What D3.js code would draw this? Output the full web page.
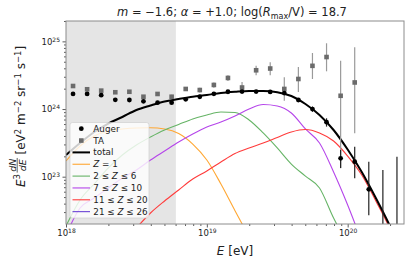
<!DOCTYPE html>
<html>
<head>
<meta charset="utf-8">
<script src="https://cdn.jsdelivr.net/npm/d3@7"></script>
<style>
  body { margin: 0; background: #fff; }
  svg { display: block; font-family: "DejaVu Sans", sans-serif; }
</style>
</head>
<body>
<div id="chart"></div>
<script>
// model curves, sampled on a log10(E/eV) grid
const modelLogE = [18.0, 18.1, 18.2, 18.3, 18.4, 18.5, 18.6, 18.7, 18.8, 18.9, 19.0, 19.1, 19.2,
                   19.3, 19.4, 19.5, 19.6, 19.7, 19.8, 19.9, 20.0, 20.1, 20.2, 20.3, 20.4];
const totalFlux = [2.09e23, 3.15e23, 4.58e23, 6.11e23, 7.63e23, 9.67e23, 1.128e24, 1.293e24, 1.407e24,
                   1.522e24, 1.613e24, 1.726e24, 1.798e24, 1.848e24, 1.848e24, 1.774e24, 1.558e24,
                   1.187e24, 8.17e23, 4.90e23, 2.52e23, 1.174e23, 4.85e22, 1.87e22, 6.3e21];
const z1Flux = [1.707e23, 2.84e23, 3.99e23, 4.74e23, 5.07e23, 5.25e23, 5.28e23, 5.07e23, 4.35e23,
                3.04e23, 1.766e23, 7.80e22, 3.15e22, 1.29e22, null, null, null, null, null, null,
                null, null, null, null, null];
const z2to6Flux = [1.87e22, 4.53e22, 7.80e22, 1.345e23, 2.09e23, 2.94e23, 3.86e23, 4.90e23, 5.91e23,
                   7.13e23, 8.17e23, 9.04e23, 8.89e23, 6.89e23, 4.43e23, 2.66e23, 1.54e23, 1.02e23,
                   6.81e22, 2.45e22, 1.0e22, null, null, null, null];
const z7to10Flux = [1.38e22, 3.45e22, 4.85e22, 6.81e22, 9.57e22, 1.256e23, 1.766e23, 2.40e23, 3.26e23,
                    4.28e23, 5.43e23, 6.43e23, 7.89e23, 1.0e24, 1.167e24, 1.109e24, 8.74e23, 5.07e23,
                    3.15e23, 1.174e23, 3.82e22, 1.1e22, null, null, null];
const z11to20Flux = [null, null, null, null, null, 1.75e22, 2.91e22, 4.38e22, 6.36e22, 9.25e22, 1.215e23,
                     1.65e23, 2.20e23, 2.66e23, 3.15e23, 3.80e23, 4.58e23, 4.98e23, 4.43e23, 3.37e23,
                     2.02e23, 1.06e23, 4.38e22, 1.69e22, 5e21];

// measured spectra
const augerLogE = [18.05, 18.15, 18.25, 18.35, 18.45, 18.55, 18.65, 18.75, 18.85, 18.95, 19.05, 19.15,
                   19.25, 19.35, 19.45, 19.55, 19.65, 19.75, 19.85, 19.95, 20.05, 20.15, 20.25, 20.35];
const augerFlux = [1.67e24, 1.67e24, 1.60e24, 1.37e24, 1.36e24, 1.30e24, 1.24e24, 1.24e24, 1.39e24,
                   1.52e24, 1.68e24, 1.80e24, 1.81e24, 1.81e24, 1.79e24, 1.72e24, 1.36e24, 1.00e24,
                   6.4e23, 1.87e23, 1.67e23, 6.5e22, 1e20, 1e20];
const augerHi = [1.70e24, 1.70e24, 1.63e24, 1.40e24, 1.39e24, 1.33e24, 1.27e24, 1.27e24, 1.42e24,
                 1.55e24, 1.72e24, 1.85e24, 1.87e24, 1.88e24, 1.87e24, 1.81e24, 1.45e24, 1.09e24,
                 7.3e23, 2.48e23, 2.78e23, 1.67e23, 1.26e23, 1.98e23];
const augerLo = [1.64e24, 1.64e24, 1.57e24, 1.34e24, 1.33e24, 1.27e24, 1.21e24, 1.21e24, 1.36e24,
                 1.49e24, 1.64e24, 1.75e24, 1.75e24, 1.74e24, 1.71e24, 1.63e24, 1.27e24, 9.1e23,
                 5.5e23, 1.35e23, 9.5e22, 2.7e22, 1e20, 1e20];

const taLogE = [18.05, 18.15, 18.25, 18.35, 18.45, 18.55, 18.65, 18.75, 18.85, 18.95, 19.05, 19.15,
                19.25, 19.35, 19.45, 19.55, 19.65, 19.75, 19.85, 19.95, 20.05];
const taFlux = [2.19e24, 1.96e24, 1.87e24, 1.77e24, 1.80e24, 1.52e24, 1.67e24, 1.52e24, 1.98e24,
                1.91e24, 2.27e24, 2.88e24, 2.08e24, 3.74e24, 3.97e24, 1.98e24, 2.78e24, 4.35e24,
                5.87e24, 1.57e24, 2.47e24];
const taHi = [2.25e24, 2.02e24, 1.93e24, 1.83e24, 1.87e24, 1.59e24, 1.76e24, 1.62e24, 2.12e24,
              2.06e24, 2.47e24, 3.17e24, 2.51e24, 4.37e24, 4.91e24, 2.94e24, 4.18e24, 6.73e24,
              9.37e24, 5.18e24, 8.17e24];
const taLo = [2.13e24, 1.90e24, 1.81e24, 1.71e24, 1.73e24, 1.45e24, 1.58e24, 1.42e24, 1.84e24,
              1.76e24, 2.07e24, 2.59e24, 1.73e24, 3.15e24, 3.15e24, 1.33e24, 1.79e24, 2.78e24,
              3.61e24, 1.33e23, 4.38e23];

// shaded energy range (below the fit threshold)
const shadeLogE = [18.0, 18.78];

const xMajor = [1e18, 1e19, 1e20];
const yMajor = [1e23, 1e24, 1e25];

const legendLabels = ["Auger", "TA", "total", "Z = 1", "2 ≤ Z ≤ 6", "7 ≤ Z ≤ 10", "11 ≤ Z ≤ 20", "21 ≤ Z ≤ 26"];
const legendColors = ["#000", "#6b6b6b", "#000", "#ffa733", "#66b466", "#b545ea", "#ff3b3b", "#6a42d4"];

const width = 416, height = 264;
const margin = {top: 21, right: 12, bottom: 40, left: 66};

const x = d3.scaleLog()
    .domain([1e18, Math.pow(10, 20.4)])
    .range([margin.left, width - margin.right]);
const y = d3.scaleLog()
    .domain([2e22, 2e25])
    .range([height - margin.bottom, margin.top]);

const svg = d3.select("#chart")
    .append("svg")
        .attr("width", width)
        .attr("height", height);

svg.append("defs").append("clipPath")
    .attr("id", "plot-clip")
    .append("rect")
        .attr("x", margin.left)
        .attr("y", margin.top)
        .attr("width", width - margin.left - margin.right)
        .attr("height", height - margin.top - margin.bottom);

const plot = svg.append("g").attr("clip-path", "url(#plot-clip)");

// grey band
plot.append("rect")
    .attr("x", x(Math.pow(10, shadeLogE[0])))
    .attr("y", margin.top)
    .attr("width", x(Math.pow(10, shadeLogE[1])) - x(Math.pow(10, shadeLogE[0])))
    .attr("height", height - margin.top - margin.bottom)
    .attr("fill", "#e5e5e5");

// model lines
const line = d3.line()
    .defined(d => d[1] != null)
    .x(d => x(Math.pow(10, d[0])))
    .y(d => y(d[1]))
    .curve(d3.curveMonotoneX);

const series = [
    {values: z1Flux, color: legendColors[3], w: 1.1},
    {values: z2to6Flux, color: legendColors[4], w: 1.1},
    {values: z7to10Flux, color: legendColors[5], w: 1.1},
    {values: z11to20Flux, color: legendColors[6], w: 1.1},
    {values: totalFlux, color: "#000", w: 2}
];

series.forEach(s => {
    plot.append("path")
        .datum(modelLogE.map((e, i) => [e, s.values[i]]))
        .attr("fill", "none")
        .attr("stroke", s.color)
        .attr("stroke-width", s.w)
        .attr("d", line);
});

// TA
const ta = taLogE.map((e, i) => ({e: Math.pow(10, e), v: taFlux[i], lo: taLo[i], hi: taHi[i]}));
plot.selectAll(".ta-err")
    .data(ta)
    .enter()
    .append("line")
        .attr("x1", d => x(d.e)).attr("x2", d => x(d.e))
        .attr("y1", d => y(d.lo)).attr("y2", d => y(d.hi))
        .attr("stroke", "#9a9a9a")
        .attr("stroke-width", 1.2);
plot.selectAll(".ta-pt")
    .data(ta)
    .enter()
    .append("rect")
        .attr("x", d => x(d.e) - 2.3)
        .attr("y", d => y(d.v) - 2.3)
        .attr("width", 4.6).attr("height", 4.6)
        .attr("fill", legendColors[1]);

// Auger
const auger = augerLogE.map((e, i) => ({e: Math.pow(10, e), v: augerFlux[i], lo: augerLo[i], hi: augerHi[i]}));
plot.selectAll(".auger-err")
    .data(auger)
    .enter()
    .append("line")
        .attr("x1", d => x(d.e)).attr("x2", d => x(d.e))
        .attr("y1", d => y(d.lo)).attr("y2", d => y(d.hi))
        .attr("stroke", "#222")
        .attr("stroke-width", 1.2);
plot.selectAll(".auger-pt")
    .data(auger)
    .enter()
    .append("circle")
        .attr("cx", d => x(d.e))
        .attr("cy", d => y(d.v))
        .attr("r", 2.4)
        .attr("fill", "#000");

// axes
const xMinor = [], yMinor = [];
[1e18, 1e19, 1e20].forEach(b => d3.range(2, 10).forEach(k => { if (b * k <= x.domain()[1]) xMinor.push(b * k); }));
[1e22, 1e23, 1e24, 1e25].forEach(b => d3.range(2, 10).forEach(k => {
    const v = b * k;
    if (v > y.domain()[0] && v <= y.domain()[1] * 1.0001) yMinor.push(v);
}));

function supLabels(g) {
    g.selectAll(".tick text").each(function(d) {
        const t = d3.select(this);
        t.text("10");
        t.append("tspan")
            .attr("dy", "-0.5em")
            .attr("font-size", "6px")
            .text(Math.round(Math.log10(d)));
    });
}

const gx = svg.append("g")
    .attr("transform", `translate(0,${height - margin.bottom})`);
gx.append("g").call(d3.axisBottom(x).tickValues(xMinor).tickSize(2).tickFormat(""));
gx.append("g").call(d3.axisBottom(x).tickValues(xMajor).tickSize(3.5).tickPadding(2.5).tickFormat(() => "10"))
    .call(supLabels);

const gy = svg.append("g")
    .attr("transform", `translate(${margin.left},0)`);
gy.append("g").call(d3.axisLeft(y).tickValues(yMinor).tickSize(2).tickFormat(""));
gy.append("g").call(d3.axisLeft(y).tickValues(yMajor).tickSize(3.5).tickPadding(2.5).tickFormat(() => "10"))
    .call(supLabels);

svg.selectAll(".domain").remove();
svg.selectAll(".tick line").attr("stroke", "#333").attr("stroke-width", 0.8);
svg.selectAll(".tick text").attr("font-size", "8.5px").attr("fill", "#222")
    .attr("font-family", "DejaVu Sans");

// frame
svg.append("rect")
    .attr("x", margin.left)
    .attr("y", margin.top)
    .attr("width", width - margin.left - margin.right)
    .attr("height", height - margin.top - margin.bottom)
    .attr("fill", "none")
    .attr("stroke", "#8c8c8c")
    .attr("stroke-width", 1);

// legend
const legend = svg.append("g");
legend.append("rect")
    .attr("x", 70).attr("y", 122.5)
    .attr("width", 79).attr("height", 95.5)
    .attr("rx", 2.5)
    .attr("fill", "rgba(255,255,255,0.8)")
    .attr("stroke", "rgba(204,204,204,0.8)")
    .attr("stroke-width", 0.8);

const items = legend.selectAll(".item")
    .data(legendLabels)
    .enter()
    .append("g")
        .attr("transform", (d, i) => `translate(0,${128.7 + i * 11.85})`);

items.each(function(d, i) {
    const g = d3.select(this);
    if (i === 0) {
        g.append("circle").attr("cx", 81.3).attr("cy", 0).attr("r", 2.4).attr("fill", legendColors[0]);
    } else if (i === 1) {
        g.append("rect").attr("x", 79).attr("y", -2.3).attr("width", 4.6).attr("height", 4.6).attr("fill", legendColors[1]);
    } else {
        g.append("line")
            .attr("x1", 72.5).attr("x2", 90)
            .attr("stroke", legendColors[i])
            .attr("stroke-width", i === 2 ? 2 : 1.1);
    }
    const t = g.append("text")
        .attr("x", 93.3)
        .attr("dy", "0.35em")
        .attr("font-size", "8.8px")
        .attr("fill", "#222");
    d.split(/(Z)/).forEach(part => {
        if (!part) return;
        t.append("tspan")
            .attr("font-style", part === "Z" ? "italic" : null)
            .text(part);
    });
});

// title
const title = svg.append("text")
    .attr("x", (margin.left + width - margin.right) / 2 - 3)
    .attr("y", 16)
    .attr("text-anchor", "middle")
    .attr("font-size", "11.5px")
    .attr("fill", "#222");
[["m", "i"], [" = −1.6; ", "n"], ["α", "i"], [" = +1.0; log(", "n"], ["R", "i"], ["max", "s"], ["/V) = 18.7", "r"]]
    .forEach(([txt, kind]) => {
        const ts = title.append("tspan").text(txt);
        if (kind === "i") ts.attr("font-style", "italic");
        if (kind === "s") ts.attr("font-size", "8px").attr("dy", 2.5);
        if (kind === "r") ts.attr("dy", -2.5);
    });

// x label
const xl = svg.append("text")
    .attr("x", (margin.left + width - margin.right) / 2)
    .attr("y", 255)
    .attr("text-anchor", "middle")
    .attr("font-size", "12px")
    .attr("fill", "#222");
xl.append("tspan").attr("font-style", "italic").text("E");
xl.append("tspan").text(" [eV]");

// y label: E^3 dN/dE [eV^2 m^-2 sr^-1 s^-1]
const yl = svg.append("g").attr("fill", "#222");
const e3 = yl.append("text").attr("font-size", "12px");
e3.append("tspan").attr("font-style", "italic").text("E");
e3.append("tspan").attr("font-size", "8.5px").attr("dy", -5).text("3");
const l1 = e3.node().getComputedTextLength();

const fx = l1 + 1.5;
const num = yl.append("text").attr("font-size", "9.5px").attr("font-style", "italic").attr("y", -9.5).text("dN");
const den = yl.append("text").attr("font-size", "9.5px").attr("font-style", "italic").attr("y", 0.5).text("dE");
const fw = Math.max(num.node().getComputedTextLength(), den.node().getComputedTextLength()) + 1.5;
num.attr("x", fx + fw / 2).attr("text-anchor", "middle");
den.attr("x", fx + fw / 2).attr("text-anchor", "middle");
yl.append("line")
    .attr("x1", fx).attr("x2", fx + fw)
    .attr("y1", -7.8).attr("y2", -7.8)
    .attr("stroke", "#222").attr("stroke-width", 0.7);

const units = yl.append("text").attr("font-size", "12px").attr("x", fx + fw + 3.5);
[["[eV", 0], ["2", 1], [" m", 0], ["−2", 1], [" sr", 0], ["−1", 1], [" s", 0], ["−1", 1], ["]", 0]]
    .forEach(([txt, sup]) => {
        units.append("tspan")
            .attr("font-size", sup ? "8.5px" : null)
            .attr("baseline-shift", sup ? "45%" : null)
            .text(txt);
    });
const total = fx + fw + 3.5 + units.node().getComputedTextLength();
yl.attr("transform", `translate(25,${116.5 + total / 2}) rotate(-90)`);
</script>
</body>
</html>
